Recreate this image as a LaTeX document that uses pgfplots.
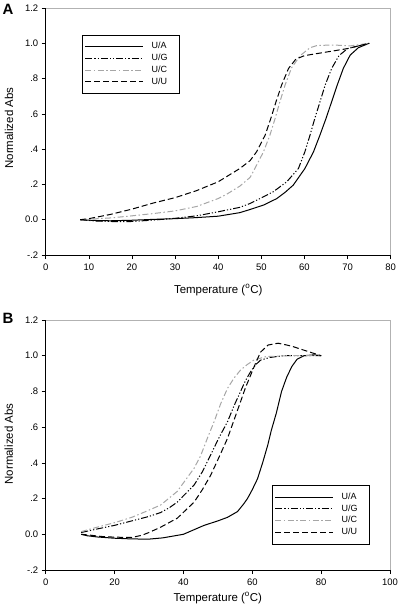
\documentclass[border=0pt]{standalone}
\usepackage{fontspec}
\setmainfont{Liberation Sans}
\usepackage{pgfplots}
\pgfplotsset{compat=1.18}

\pgfplotsset{
  meltstyle/.style={
    scale only axis,
    clip=false,
    axis line style={draw=none},
    xtick pos=bottom, ytick pos=left,
    tick align=outside,
    major tick length=4bp,
    tick style={black, line width=0.6bp},
    ymin=-0.2, ymax=1.2,
    ytick={-0.2,0,0.2,0.4,0.6,0.8,1.0,1.2},
    yticklabels={-.2,0.0,.2,.4,.6,.8,1.0,1.2},
    ticklabel style={font=\fontsize{9.5}{11}\selectfont},
    xticklabel style={yshift=-1.5bp},
    /pgf/number format/assume math mode=true,
    label style={font=\fontsize{11.5}{13}\selectfont},
    xlabel={Temperature (\textsuperscript{o}C)},
    ylabel={Normalized Abs},
    legend cell align=left,
    every axis plot/.append style={
      legend image code/.code={\draw[##1] (0bp,0bp) -- (58bp,0bp);}},
    legend style={draw=black, line width=0.6bp, fill=white,
      font=\fontsize{9}{10}\selectfont,
      inner xsep=3bp, inner ysep=5.75bp,
      nodes={inner ysep=2bp, inner xsep=3bp, text height=6bp, text depth=1.7bp},
      column sep=4.7bp},
  },
  ua/.style={black, line width=1bp, solid},
  ug/.style={black, line width=1bp, dash pattern=on 7bp off 2bp on 1.2bp off 2bp on 1.2bp off 2bp},
  uc/.style={gray!70, line width=1bp, dash pattern=on 6bp off 2.5bp on 1.5bp off 2.5bp},
  uu/.style={black, line width=1bp, dash pattern=on 6bp off 3bp},
}
\newcommand{\legtxt}[1]{\makebox[22bp][l]{#1}}

\begin{document}
\begin{tikzpicture}
\useasboundingbox (0bp,0bp) rectangle (400bp,-615bp);

% ---------------- Panel A ----------------
\begin{axis}[meltstyle,
  at={(45.7bp,-255bp)}, anchor=south west,
  width=345bp, height=247bp,
  xmin=0, xmax=80, xtick={0,10,...,80},
  xlabel style={at={(axis description cs:0.5,-0.142)}, anchor=center},
  ylabel style={at={(axis description cs:-0.106,0.514)}, anchor=center},
  legend style={at={(axis description cs:0.104,0.891)}, anchor=north west},
]
\addplot[ua] coordinates {
(8,0) (12,-0.005) (15,-0.006) (20,-0.003) (25,0.002) (30,0.006) (35,0.012)
(40,0.02) (45,0.04) (47.4,0.058) (50.5,0.083) (53.6,0.12) (55.5,0.155)
(57.4,0.196) (60.1,0.29) (62.1,0.385) (63.6,0.48) (65,0.574) (66.3,0.668)
(67.6,0.763) (69,0.857) (70.6,0.933) (72.5,0.975) (75,1.0)};
\addlegendentry{\legtxt{U/A}}
\addplot[ug] coordinates {
(8,0) (12,-0.008) (15,-0.01) (18,-0.011) (20,-0.01) (25,-0.002) (30,0.008)
(35,0.022) (40,0.045) (42,0.055) (45,0.07) (47.4,0.092) (49.7,0.12)
(52.8,0.159) (55.9,0.215) (58.6,0.29) (60.1,0.385) (61.3,0.48) (62.4,0.574)
(63.6,0.668) (64.8,0.763) (66.3,0.857) (68,0.93) (70,0.97) (72.5,0.985) (75,1.0)};
\addlegendentry{\legtxt{U/G}}
\addplot[uc] coordinates {
(8,0) (15,0.01) (20,0.022) (25,0.035) (30,0.05) (35,0.075) (40,0.12)
(42,0.145) (45,0.19) (47.4,0.24) (48.5,0.29) (50.5,0.385) (52,0.48)
(53.2,0.574) (54.3,0.668) (55.5,0.763) (57,0.86) (59,0.93) (61.3,0.975)
(63,0.988) (67,0.99) (70.6,0.985) (75,1.0)};
\addlegendentry{\legtxt{U/C}}
\addplot[uu] coordinates {
(8,0) (10,0.006) (15,0.03) (20,0.06) (25,0.095) (30,0.125) (35,0.165)
(40,0.215) (42,0.245) (45,0.29) (47.4,0.335) (48.9,0.385) (50.9,0.48)
(52.2,0.574) (53.4,0.668) (54.7,0.763) (56.3,0.857) (58,0.91) (60,0.93)
(65,0.95) (70,0.97) (75,1.0)};
\addlegendentry{\legtxt{U/U}}
\draw[gray!60, line width=0.6bp] (rel axis cs:0,1) -- (rel axis cs:1,1) -- (rel axis cs:1,0);
\draw[black, line width=0.6bp] (rel axis cs:0,1) -- (rel axis cs:0,0) -- (rel axis cs:1,0);
\end{axis}

% ---------------- Panel B ----------------
\begin{axis}[meltstyle,
  at={(45.7bp,-570bp)}, anchor=south west,
  width=344.3bp, height=250bp,
  xmin=0, xmax=100, xtick={0,20,...,100},
  xlabel style={at={(axis description cs:0.5,-0.112)}, anchor=center},
  ylabel style={at={(axis description cs:-0.107,0.504)}, anchor=center},
  legend style={at={(axis description cs:0.656,0.339)}, anchor=north west},
]
\addplot[ua] coordinates {
(10.3,0) (12,-0.008) (15,-0.015) (20,-0.022) (25,-0.026) (30,-0.027)
(34,-0.02) (37,-0.01) (40,0) (43,0.025) (46,0.05) (50,0.075) (52.8,0.095)
(55.7,0.127) (57.5,0.17) (58.6,0.2) (60,0.25) (61.5,0.31) (63,0.4)
(64.5,0.5) (65.5,0.58) (67,0.68) (68.5,0.8) (70,0.88) (71.5,0.94)
(73,0.98) (75,1.0) (78,1.005) (80,1.0)};
\addlegendentry{\legtxt{U/A}}
\addplot[ug] coordinates {
(10.3,0.01) (15,0.03) (20,0.05) (25,0.075) (30,0.1) (33.4,0.122)
(36,0.15) (38.2,0.18) (43.1,0.276) (45.5,0.35) (47.9,0.444) (50.3,0.54) (52.8,0.63)
(54.7,0.72) (56.6,0.8) (58,0.86) (59.5,0.91) (61,0.95) (62.4,0.975)
(65,0.99) (69,1.0) (80,1.0)};
\addlegendentry{\legtxt{U/G}}
\addplot[uc] coordinates {
(10.3,0.015) (15,0.04) (20,0.065) (25,0.095) (29,0.127) (33.4,0.164)
(38.2,0.24) (43.1,0.37) (45,0.44) (47,0.54) (48.9,0.63) (50.8,0.73)
(52.8,0.817) (54.7,0.875) (56.6,0.92) (58.5,0.95) (60.5,0.976) (64,0.995)
(70,1.0) (80,1.0)};
\addlegendentry{\legtxt{U/C}}
\addplot[uu] coordinates {
(10.3,0) (13,-0.005) (16,-0.012) (20,-0.016) (25,-0.018) (28,-0.005)
(30,0.01) (33.4,0.04) (38.2,0.09) (43.1,0.18) (45.5,0.25) (47.9,0.33)
(50.3,0.43) (52.8,0.537) (54.7,0.64) (56.6,0.743) (58,0.82) (59.5,0.89)
(61,0.96) (62.4,1.02) (64.6,1.06) (67.5,1.07) (70,1.06) (72,1.05)
(75.8,1.026) (80,1.0)};
\addlegendentry{\legtxt{U/U}}
\draw[gray!60, line width=0.6bp] (rel axis cs:0,1) -- (rel axis cs:1,1) -- (rel axis cs:1,0);
\draw[black, line width=0.6bp] (rel axis cs:0,1) -- (rel axis cs:0,0) -- (rel axis cs:1,0);
\end{axis}

\node[font=\bfseries\fontsize{15}{15}\selectfont] at (8bp,-9bp) {A};
\node[font=\bfseries\fontsize{15}{15}\selectfont] at (8bp,-318bp) {B};
\end{tikzpicture}
\end{document}
